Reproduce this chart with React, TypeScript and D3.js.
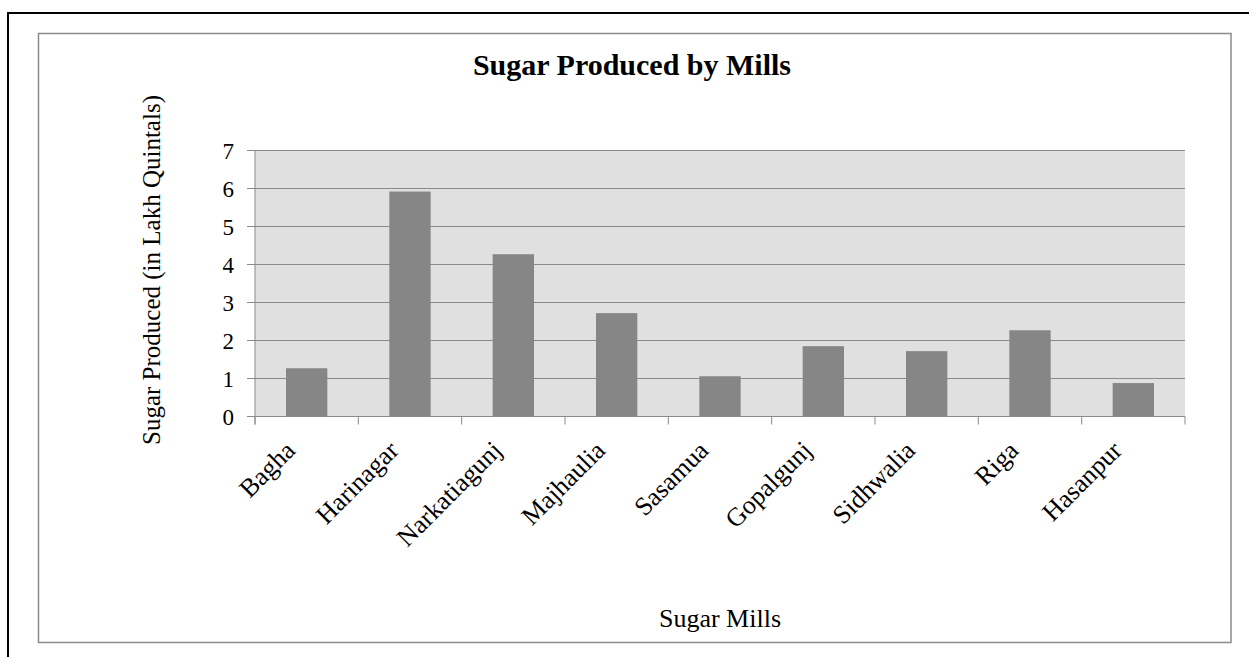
import React from "react";
import * as d3 from "d3";

const mills = ["Bagha", "Harinagar", "Narkatiagunj", "Majhaulia", "Sasamua", "Gopalgunj", "Sidhwalia", "Riga", "Hasanpur"];
const production = [1.27, 5.92, 4.27, 2.72, 1.06, 1.85, 1.72, 2.27, 0.88];
const yTicks = [0, 1, 2, 3, 4, 5, 6, 7];

const W = 1249;
const H = 657;
const plot = { left: 255, right: 1185, top: 150.5, bottom: 416.5 };
const font = "'Liberation Serif', 'Times New Roman', serif";

export default function App() {
  const x = d3.scaleBand<string>().domain(mills).range([plot.left, plot.right]).paddingInner(0.6).paddingOuter(0.3);
  const y = d3.scaleLinear().domain([0, 7]).range([plot.bottom, plot.top]);
  const step = x.step();
  const boundaries = d3.range(mills.length + 1).map((i) => plot.left + i * step);
  const grid = "#8a8a8a";

  return (
    <svg width={W} height={H} style={{ position: "absolute", left: 0, top: 0, background: "#fff" }}>
      <rect x={8} y={13} width={W + 20} height={H + 20} fill="none" stroke="#000" strokeWidth={2} />
      <rect x={38.5} y={33.5} width={1192.5} height={609} fill="#fff" stroke="#8a8a8a" strokeWidth={1.5} />
      <text x={632} y={75} textAnchor="middle" fontFamily={font} fontWeight="bold" fontSize={30}>
        Sugar Produced by Mills
      </text>
      <rect x={plot.left} y={plot.top} width={plot.right - plot.left} height={plot.bottom - plot.top} fill="#e0e0e0" />
      {yTicks.map((t) => (
        <g key={t}>
          <line x1={plot.left - 8} x2={plot.right} y1={y(t)} y2={y(t)} stroke={grid} strokeWidth={1} />
          <text x={234} y={y(t)} dy="0.35em" textAnchor="end" fontFamily={font} fontSize={23}>
            {t}
          </text>
        </g>
      ))}
      {mills.map((m, i) => (
        <rect key={m} x={x(m)} y={y(production[i])} width={x.bandwidth()} height={y(0) - y(production[i])} fill="#868686" />
      ))}
      <line x1={plot.left} x2={plot.left} y1={plot.top} y2={plot.bottom + 8} stroke={grid} strokeWidth={1} />
      {boundaries.map((b, i) => (
        <line key={i} x1={b} x2={b} y1={plot.bottom} y2={plot.bottom + 8} stroke={grid} strokeWidth={1} />
      ))}
      {mills.map((m) => {
        const cx = (x(m) as number) + x.bandwidth() / 2 - 10;
        const cy = 452;
        return (
          <text key={m} x={cx} y={cy} textAnchor="end" fontFamily={font} fontSize={26} transform={`rotate(-45 ${cx} ${cy})`}>
            {m}
          </text>
        );
      })}
      <text x={0} y={0} transform={`translate(160 ${270}) rotate(-90)`} textAnchor="middle" fontFamily={font} fontSize={25}>
        Sugar Produced (in Lakh Quintals)
      </text>
      <text x={720} y={627} textAnchor="middle" fontFamily={font} fontSize={26}>
        Sugar Mills
      </text>
    </svg>
  );
}
